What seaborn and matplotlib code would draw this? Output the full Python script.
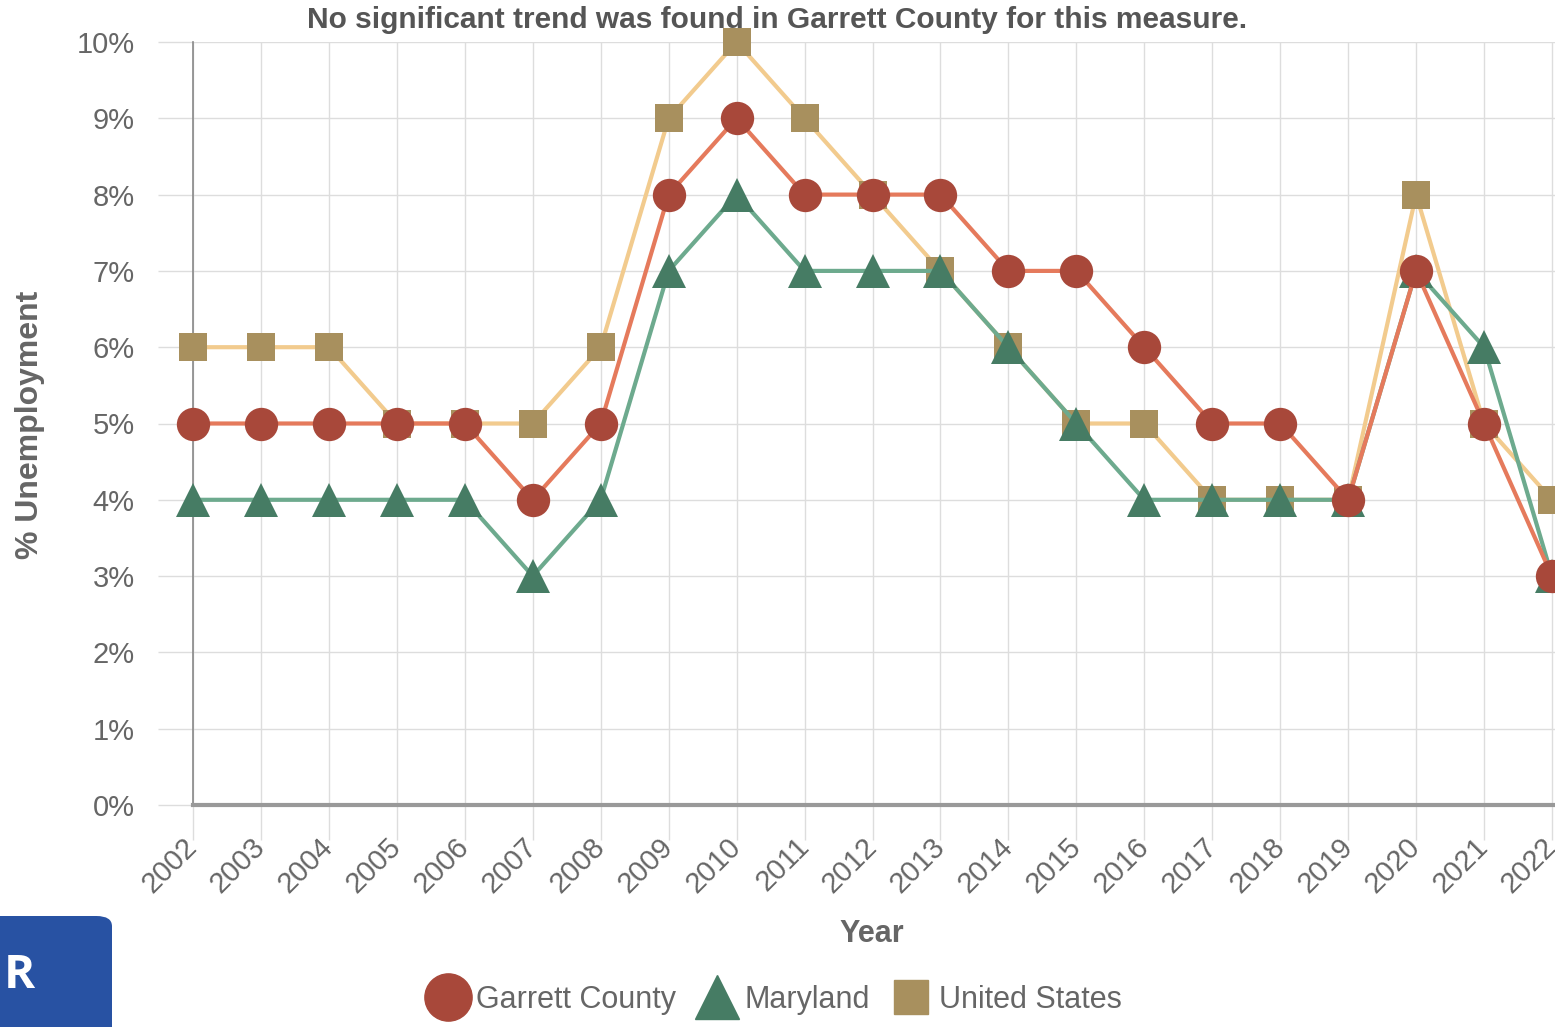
import pandas as pd
import seaborn as sns
import matplotlib.pyplot as plt
from matplotlib.lines import Line2D
from matplotlib.patches import FancyBboxPatch

years = list(range(2002, 2023))
garrett = [5, 5, 5, 5, 5, 4, 5, 8, 9, 8, 8, 8, 7, 7, 6, 5, 5, 4, 7, 5, 3]
maryland = [4, 4, 4, 4, 4, 3, 4, 7, 8, 7, 7, 7, 6, 5, 4, 4, 4, 4, 7, 6, 3]
united_states = [6, 6, 6, 5, 5, 5, 6, 9, 10, 9, 8, 7, 6, 5, 5, 4, 4, 4, 8, 5, 4]

series_names = ["Garrett County", "Maryland", "United States"]
y_ticks = list(range(0, 11))
y_tick_labels = [f"{v}%" for v in y_ticks]

# name -> (values, line colour, marker colour, marker, size)
styles = {
    "United States": (united_states, "#F2CB8E", "#A8905E", "s", 20),
    "Maryland": (maryland, "#6DAA8E", "#467C64", "^", 24),
    "Garrett County": (garrett, "#E57A5C", "#A8483A", "o", 24),
}

sns.set_style("white")
plt.rcParams["font.family"] = ["Liberation Sans", "DejaVu Sans"]

fig = plt.figure(figsize=(15.55, 10.27), dpi=100)
ax = fig.add_axes([193 / 1555, (1027 - 805) / 1027, (1555 - 193) / 1555, (805 - 42) / 1027])

for name in ["United States", "Maryland", "Garrett County"]:
    vals, lc, mc, mk, ms = styles[name]
    df = pd.DataFrame({"Year": years, "value": vals})
    sns.lineplot(
        data=df, x="Year", y="value", ax=ax, color=lc, linewidth=3,
        marker=mk, markersize=ms, markerfacecolor=mc, markeredgecolor=mc,
        markeredgewidth=0, clip_on=False, zorder=3,
    )

ax.set_xlim(2002, 2022.044)
ax.set_ylim(0, 10)
ax.set_xticks(years)
ax.set_xticklabels([str(y) for y in years], rotation=45, ha="right",
                   va="center", rotation_mode="anchor")
ax.set_yticks(y_ticks)
ax.set_yticklabels(y_tick_labels)
ax.grid(True, color="#dddddd", linewidth=1)
ax.tick_params(axis="both", bottom=True, left=True, length=25, width=1,
               color="#dddddd", labelsize=21, labelcolor="#666666")
ax.tick_params(axis="y", pad=17)
ax.tick_params(axis="x", pad=2)

for side in ["top", "right"]:
    ax.spines[side].set_visible(False)
ax.spines["left"].set_color("#888888")
ax.spines["left"].set_linewidth(1.2)
ax.spines["bottom"].set_color("#999999")
ax.spines["bottom"].set_linewidth(3)

ax.set_xlabel("Year", fontsize=22, fontweight="bold", color="#666666")
ax.xaxis.set_label_coords((872 - 193) / 1362, -(942 - 805) / 763)
ax.xaxis.label.set_va("baseline")
ax.set_ylabel("% Unemployment", fontsize=23, fontweight="bold", color="#666666")
ax.yaxis.set_label_coords(-(193 - 45) / 1362, (805 - 425) / 763)
fig.text(0.5, 1 - 20 / 1027,
         "No significant trend was found in Garrett County for this measure.",
         fontsize=21.5, fontweight="bold", color="#555555", ha="center", va="center")

handles = []
for name in series_names:
    vals, lc, mc, mk, ms = styles[name]
    size = {"o": 34, "^": 31, "s": 25}[mk]
    handles.append(Line2D([], [], linestyle="none", marker=mk, markersize=size,
                          markerfacecolor=mc, markeredgecolor=mc))
fig.legend(handles, series_names, loc="center",
           bbox_to_anchor=(775 / 1555, 1 - 1000 / 1027),
           ncol=3, frameon=False, fontsize=22, labelcolor="#666666",
           handletextpad=0.25, columnspacing=0.7, handlelength=1.3)

# blue tab in lower-left corner
fig.patches.append(FancyBboxPatch((-0.02, -0.05), 0.02 + 112 / 1555, 0.05 + 111 / 1027,
                                  boxstyle="round,pad=0,rounding_size=0.01",
                                  transform=fig.transFigure, facecolor="#2852A3",
                                  edgecolor="none"))
fig.text(4 / 1555, 1 - 975 / 1027, "R", fontsize=34, fontweight="bold", color="white",
         va="center", ha="left", family=["Open Sans", "DejaVu Sans"])

plt.savefig("out.png", dpi=100)
